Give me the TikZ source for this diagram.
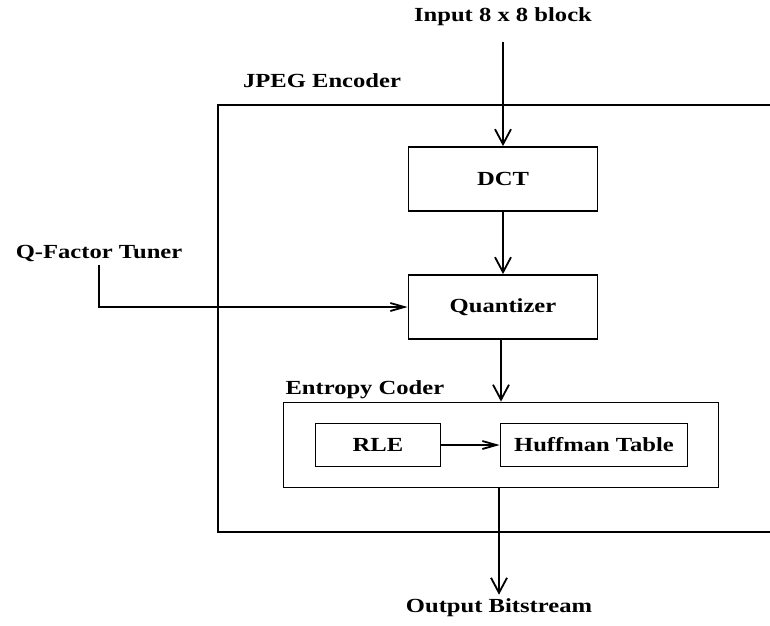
\documentclass[tikz,border=0pt]{standalone}
\usepackage{fontspec}
\setmainfont{Liberation Serif}[FakeStretch=1.23]
\usetikzlibrary{arrows.meta,positioning}

\begin{document}
\begin{tikzpicture}[
  x=1pt, y=-1pt,
  font=\fontsize{20}{24}\selectfont\bfseries,
  line width=1.8pt,
  box/.style={draw, inner sep=0pt, minimum width=189pt, minimum height=64pt},
  arrow/.style={-{Straight Barb[length=15pt, width=16pt]}},
  harrow/.style={-{Straight Barb[length=14pt, width=8pt]}}
]
\useasboundingbox (0,0) rectangle (770,625);

% encoder frame, open to the right
\draw (770,105) -| (218,532) -- (770,532);
\node at (322,81) {JPEG Encoder};

\node (in) at (503,17) {Input 8 x 8 block};
\node[box] (dct) at (503,179) {DCT};
\node[box] (quant) at (503,307) {Quantizer};
\node (qf) at (99,253) {Q-Factor Tuner};

% entropy coder
\node[draw, inner sep=0pt, minimum width=435pt, minimum height=85pt] (ent) at (501,445) {};
\node[anchor=south west, inner sep=2pt] at (ent.north west) {Entropy Coder};
\node[box, minimum width=125pt, minimum height=43pt] (rle) at (378,445) {RLE};
\node[box, minimum width=187pt, minimum height=43pt] (huff) at (594,445) {Huffman Table};

\node (out) at (499,608) {Output Bitstream};

\draw[arrow] ([yshift=-12pt]in.south) -- (dct.north -| in.south);
\draw[arrow] (dct) -- (quant);
\draw[arrow] (quant.south -| ent.north) -- (ent.north);
\draw[harrow] (qf.south) |- (quant.west);
\draw[harrow] (rle) -- (huff);
\draw[arrow] (ent.south -| out.north) -- (out.north);
\end{tikzpicture}
\end{document}
